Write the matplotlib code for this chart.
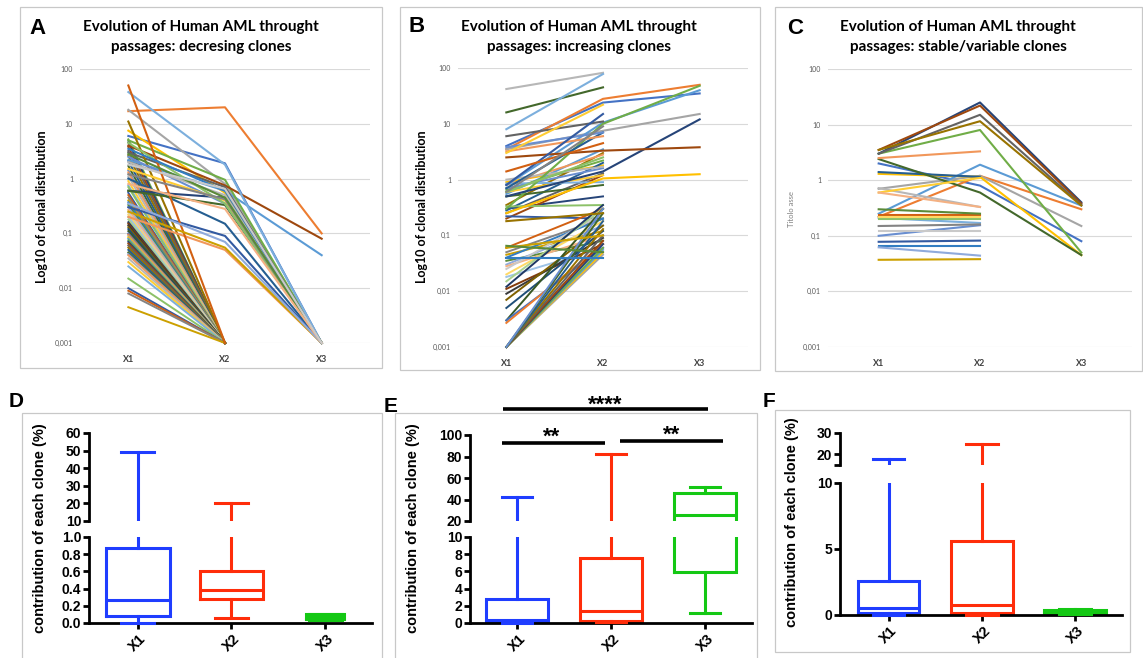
import numpy as np
import matplotlib
matplotlib.use("Agg")
import matplotlib.pyplot as plt
from matplotlib.patches import Rectangle
from matplotlib.lines import Line2D
from matplotlib.ticker import NullLocator

nan = np.nan

# ---------------- data ----------------
passages = ['X1', 'X2', 'X3']
log_ticks = [0.001, 0.01, 0.1, 1, 10, 100]
log_tick_labels = ['0,001', '0,01', '0,1', '1', '10', '100']
detection_floor = 0.001

# Panel A: decreasing clones (clones still detected at X2)
a_x1 = [6, 17, 18, 7.5, 2.2, 5, 0.6, 4, 3, 11, 1, 0.6, 2.5, 0.2, 2, 1.5, 38, 4.5, 0.3, 50,
        1.2, 0.25, 3.5, 2.8, 0.35, 0.8, 1.8]
a_x2 = [1.9, 20, 0.8, 0.55, 0.6, 0.95, 0.45, 0.75, 0.7, 0.001, 0.15, 0.33, 0.35, 0.05, 0.5, 0.4,
        1.8, 0.35, 0.09, 0.001, 0.42, 0.055, 0.6, 0.45, 0.07, 0.28, 0.65]
a_x3 = [0.001, 0.1, 0.001, 0.001, 0.04, 0.001, 0.001, 0.08, 0.001, nan, 0.001, 0.001, 0.001,
        0.001, 0.001, 0.001, 0.001, 0.001, 0.001, nan, 0.001, 0.001, 0.001, 0.001, 0.001, 0.001, 0.001]
# Panel A: clones lost at X2 (X1 values, X2 at detection floor)
a_lost_x1 = [5.2, 4.6, 3.8, 3.2, 2.6, 2.1, 1.7, 1.4, 1.3, 1.1, 0.9, 0.75, 0.7, 0.55, 0.5, 0.45,
             0.4, 0.37, 0.33, 0.3, 0.27, 0.24, 0.22, 0.2, 0.18, 0.16, 0.15, 0.14, 0.13, 0.12,
             0.11, 0.1, 0.095, 0.09, 0.085, 0.08, 0.075, 0.07, 0.065, 0.06, 0.055, 0.05, 0.045,
             0.042, 0.04, 0.035, 0.03, 0.025, 0.015, 0.01, 0.009, 0.008, 0.0045]

# Panel B: increasing clones
b_x1 = [4, 3.5, 3.5, 0.25, 0.8, 0.3, 0.5, 2.5, 6, 0.18, 0.7, 16, 3.8, 3.2, 42, 3, 8, 0.6,
        0.8, 1.4, 0.6, 0.06, 0.04, 0.065]
b_x2 = [24, 28, 7.5, 1.05, 10.5, 10, 1.4, 3.3, 11, 0.25, 7, 45, 7, 6, 82, 22, 78, 2.5,
        15, 4.5, 9, 0.1, 0.04, 0.05]
b_x3 = [35, 50, 15, 1.25, 40, 48, 12, 3.8, nan, nan, nan, nan, nan, nan, nan, nan, nan, nan,
        nan, nan, nan, nan, nan, nan]
b_low_x1 = [0.9, 0.55, 0.65, 0.3, 0.2, 0.25, 0.35, 0.28, 0.5, 0.7, 0.8, 1.0, 0.6, 0.85, 0.33, 0.22,
            0.06, 0.05, 0.045, 0.04, 0.035, 0.03, 0.028, 0.025, 0.02, 0.018,
            0.015, 0.012, 0.011, 0.009, 0.007, 0.005, 0.003, 0.003, 0.0027,
            0.001, 0.001, 0.001, 0.001, 0.001, 0.001, 0.001, 0.001, 0.001, 0.001, 0.001]
b_low_x2 = [1.8, 3.5, 2.2, 0.5, 1.2, 1.3, 3.0, 2.0, 0.8, 1.6, 2.8, 1.7, 1.2, 0.9, 0.35, 0.2,
            0.3, 0.2, 0.12, 0.2, 0.08, 0.15, 0.1, 0.25, 0.18, 0.06,
            0.3, 0.35, 0.07, 0.09, 0.15, 0.12, 0.3, 0.06, 0.07,
            0.045, 0.05, 0.055, 0.06, 0.07, 0.08, 0.1, 0.13, 0.18, 0.25, 0.3]

# Panel C: stable / variable clones
c_x1 = [2, 0.22, 0.7, 1.3, 0.25, 3, 3, 3.5, 3, 3.5, 1.4, 2.4, 0.1, 2.5, 0.72, 0.6, 0.21, 0.2,
        0.078, 0.24, 0.15, 0.037, 0.065, 0.3, 0.062, 0.6, 0.12, 0.22]
c_x2 = [0.8, 1.2, 1.2, 1.15, 1.9, 8, 25, 22, 15, 11.5, 1.15, 0.6, 0.155, 3.3, 0.33, 1.1, 0.17,
        0.2, 0.082, 0.24, 0.16, 0.038, 0.065, 0.25, 0.044, 0.33, 0.12, 0.22]
c_x3 = [0.08, 0.3, 0.15, 0.045, 0.35, 0.05, 0.4, 0.38, 0.36, 0.35, nan, 0.045, nan, nan, nan,
        nan, nan, nan, nan, nan, nan, nan, nan, nan, nan, nan, nan, nan]

# Box plots (contribution of each clone, %)
d_whislo = [0.0, 0.055, 0.04]
d_q1 = [0.077, 0.28, 0.045]
d_med = [0.265, 0.385, 0.08]
d_q3 = [0.87, 0.60, 0.11]
d_whishi = [49, 20.5, 0.11]

e_whislo = [0.0, 0.1, 1.2]
e_q1 = [0.2, 0.23, 5.9]
e_med = [0.4, 1.35, 25.3]
e_q3 = [2.75, 7.55, 46.5]
e_whishi = [42, 82, 51.8]

f_whislo = [0.0, 0.0, 0.05]
f_q1 = [0.15, 0.15, 0.12]
f_med = [0.55, 0.75, 0.25]
f_q3 = [2.6, 5.6, 0.4]
f_whishi = [18, 25, 0.45]

# ---------------- style ----------------
palette = ['#4472C4', '#ED7D31', '#A5A5A5', '#FFC000', '#5B9BD5', '#70AD47',
           '#264478', '#9E480E', '#636363', '#997300', '#255E91', '#43682B',
           '#698ED0', '#F1975A', '#B7B7B7', '#FFCD33', '#7CAFDD', '#8CC168',
           '#335AA1', '#D26012', '#848484', '#CCA000', '#327DC2', '#5A8A39',
           '#8FAADC', '#F4B183', '#C9C9C9', '#FFD966', '#9DC3E6', '#A9D18E',
           '#1F3864', '#843C0C', '#3A3A3A', '#7F6000', '#1F4E79', '#385723']
box_colors = ['#1F3DFF', '#FF2D0A', '#14C814']
box_widths = [0.68, 0.68, 0.4]
TITLE_FONT = ['Lato', 'DejaVu Sans']
ARIAL = ['Liberation Sans', 'DejaVu Sans']

W, H = 1143, 658
fig = plt.figure(figsize=(W / 100, H / 100), dpi=100)


def fx(x):
    return x / W


def fy(y):
    return 1 - y / H


def add_ax(x0, y0, x1, y1):
    return fig.add_axes([x0 / W, 1 - y1 / H, (x1 - x0) / W, (y1 - y0) / H])


def frame(x0, y0, x1, y1):
    fig.add_artist(Rectangle((fx(x0), fy(y1)), (x1 - x0) / W, (y1 - y0) / H,
                             transform=fig.transFigure, fill=False, ec='#C8C8C8', lw=0.9))


def ftext(x, y, s, **kw):
    fig.text(fx(x), fy(y), s, **kw)


def line_panel(rect, x1, x2, x3, extra_x1=None, extra_x2=None, lost_x1=None):
    ax = add_ax(*rect)
    ax.set_yscale('log')
    ax.set_ylim(0.001, 100)
    ax.set_xlim(0.5, 3.5)
    k = 0
    if lost_x1 is not None:
        for v in lost_x1:
            ax.plot([1, 2], [v, detection_floor], color=palette[(k + 5) % len(palette)],
                    lw=1.4, clip_on=False)
            k += 1
    if extra_x1 is not None:
        for a, b in zip(extra_x1, extra_x2):
            ax.plot([1, 2], [a, b], color=palette[(k + 3) % len(palette)], lw=1.4, clip_on=False)
            k += 1
    for i, (a, b, c) in enumerate(zip(x1, x2, x3)):
        ax.plot([1, 2, 3], [a, b, c], color=palette[i % len(palette)], lw=1.5, clip_on=False)
    ax.set_yticks(log_ticks)
    ax.set_yticklabels(log_tick_labels, fontsize=5, color='#595959', family=TITLE_FONT)
    ax.yaxis.set_minor_locator(NullLocator())
    ax.set_xticks([1, 2, 3])
    ax.set_xticklabels(passages, fontsize=6.5, fontweight='bold', color='#404040', family=TITLE_FONT)
    ax.tick_params(length=0)
    ax.tick_params(axis='x', pad=9)
    ax.tick_params(axis='y', pad=5)
    ax.grid(axis='y', color='#D9D9D9', lw=0.8)
    ax.set_axisbelow(True)
    for s in ax.spines.values():
        s.set_visible(False)
    ax.patch.set_alpha(0)
    return ax


def titles(cx, l1, l2):
    ftext(cx, 26.5, l1, ha='center', va='center', fontsize=11, fontweight='bold', family=TITLE_FONT)
    ftext(cx, 46.5, l2, ha='center', va='center', fontsize=11, fontweight='bold', family=TITLE_FONT)


# ---- top frames
frame(20, 7, 382, 368)
frame(400, 7, 760, 370)
frame(775, 7, 1142, 371)

line_panel((80, 69, 370, 343), a_x1, a_x2, a_x3, lost_x1=a_lost_x1)
line_panel((458, 68, 748, 347), b_x1, b_x2, b_x3, extra_x1=b_low_x1, extra_x2=b_low_x2)
line_panel((828, 69, 1132, 347), c_x1, c_x2, c_x3)

titles(201, 'Evolution of Human AML throught', 'passages: decresing clones')
titles(579, 'Evolution of Human AML throught', 'passages: increasing clones')
titles(958, 'Evolution of Human AML throught', 'passages: stable/variable clones')

for (x, y, s) in [(38, 28, 'A'), (417, 27, 'B'), (795, 28, 'C')]:
    ftext(x, y, s, ha='center', va='center', fontsize=16, fontweight='bold', family=ARIAL)

ftext(42, 207, 'Log10 of clonal distribution', rotation=90, ha='center', va='center',
      fontsize=9, fontweight='bold', family=TITLE_FONT)
ftext(422, 207, 'Log10 of clonal distribution', rotation=90, ha='center', va='center',
      fontsize=9, fontweight='bold', family=TITLE_FONT)
ftext(792, 209, 'Titolo asse', rotation=90, ha='center', va='center',
      fontsize=5.5, color='#7F7F7F', family=TITLE_FONT)


# ---- bottom box plots with broken axes
def box_panel(xr, up_y, lo_y, xlim, up_lim, lo_lim, up_ticks, up_labels, lo_ticks, lo_labels,
              whislo, q1, med, q3, whishi, width, capw):
    axu = add_ax(xr[0], up_y[0], xr[1], up_y[1])
    axl = add_ax(xr[0], lo_y[0], xr[1], lo_y[1])
    stats = [dict(whislo=a, q1=b, med=c, q3=d, whishi=e) for a, b, c, d, e in
             zip(whislo, q1, med, q3, whishi)]
    for ax in (axu, axl):
        res = ax.bxp(stats, positions=[1, 2, 3], widths=width, capwidths=capw,
                     showfliers=False, patch_artist=False)
        for i, col in enumerate(box_colors):
            arts = [res['boxes'][i], res['medians'][i], res['whiskers'][2 * i],
                    res['whiskers'][2 * i + 1], res['caps'][2 * i], res['caps'][2 * i + 1]]
            for a in arts:
                a.set_color(col)
                a.set_linewidth(2.2)
                a.set_solid_joinstyle('miter')
            if ax is axl:
                res['caps'][2 * i].set_clip_on(False)
                res['caps'][2 * i].set_zorder(5)
        ax.set_xlim(*xlim)
        ax.patch.set_alpha(0)
        for s in ('top', 'right'):
            ax.spines[s].set_visible(False)
        for s in ax.spines.values():
            s.set_linewidth(2.0)
        ax.tick_params(direction='out', length=4, width=2.0, labelsize=10, pad=1.5)
    axu.set_ylim(*up_lim)
    axl.set_ylim(*lo_lim)
    axu.spines['bottom'].set_visible(False)
    axu.set_xticks([])
    axu.set_yticks(up_ticks)
    axu.set_yticklabels(up_labels, fontweight='bold', family=ARIAL)
    axl.set_yticks(lo_ticks)
    axl.set_yticklabels(lo_labels, fontweight='bold', family=ARIAL)
    axl.set_xticks([1, 2, 3])
    axl.set_xticklabels(passages, rotation=45, fontsize=10.5, fontweight='bold', family=ARIAL)
    axl.tick_params(axis='x', pad=2)
    return axu, axl


frame(22, 413, 382, 720)
frame(395, 413, 757, 720)
frame(775, 410, 1130, 652)

box_panel((89, 372), (433, 521), (537, 623), (0.48, 3.5), (10, 60), (0, 1.0),
          [10, 20, 30, 40, 50, 60], ['10', '20', '30', '40', '50', '60'],
          [0, 0.2, 0.4, 0.6, 0.8, 1.0], ['0.0', '0.2', '0.4', '0.6', '0.8', '1.0'],
          d_whislo, d_q1, d_med, d_q3, d_whishi, box_widths, 0.35)
box_panel((470, 752), (435, 521), (537, 623), (0.5, 3.5), (20, 100), (0, 10),
          [20, 40, 60, 80, 100], ['20', '40', '60', '80', '100'],
          [0, 2, 4, 6, 8, 10], ['0', '2', '4', '6', '8', '10'],
          e_whislo, e_q1, e_med, e_q3, e_whishi, 0.66, 0.32)
box_panel((840, 1122), (433, 465), (483, 615), (0.48, 3.5), (15, 30), (0, 10),
          [15, 20, 30], ['', '20', '30'],
          [0, 5, 10], ['0', '5', '10'],
          f_whislo, f_q1, f_med, f_q3, f_whishi, 0.66, 0.34)

for (x, y, s) in [(16, 402, 'D'), (391, 406, 'E'), (769, 402, 'F')]:
    ftext(x, y, s, ha='center', va='center', fontsize=15, fontweight='bold', family=ARIAL)

for x, y in [(40, 528), (413, 528), (792, 522)]:
    ftext(x, y, 'contribution of each clone (%)', rotation=90, ha='center', va='center',
          fontsize=10.5, fontweight='bold', family=ARIAL)

# significance bars (panel E)
for (xa, xb, yb, xt, yt, s) in [(503, 708, 409, 605, 402, '****'),
                               (502, 605, 443, 552, 434, '**'),
                               (620, 723, 441, 672, 432, '**')]:
    fig.add_artist(Line2D([fx(xa), fx(xb)], [fy(yb), fy(yb)], transform=fig.transFigure,
                          color='black', lw=2.6, solid_capstyle='butt'))
    ftext(xt, yt + 3, s, ha='center', va='center', fontsize=16, fontweight='bold', family=ARIAL)

fig.savefig('out.png', dpi=100)
